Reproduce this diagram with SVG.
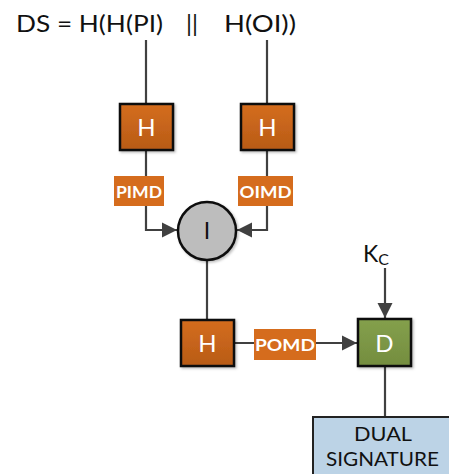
<svg xmlns="http://www.w3.org/2000/svg" width="449" height="474" viewBox="0 0 449 474">
<style>
text{font-family:Lato,"Open Sans","Liberation Sans",sans-serif}
.ln{stroke:#404040;stroke-width:2.2;fill:none}
.hbox{fill:url(#og);stroke:#111;stroke-width:2.5}
.lbl{fill:#d56c1d}
.lt{fill:#fff;font-weight:bold;font-size:17px;text-anchor:middle}
.bt{fill:#fff;font-size:24px;text-anchor:middle}
.tt{font-size:23px;fill:#111}
</style>
<defs>
<linearGradient id="og" x1="0" y1="0" x2="0" y2="1"><stop offset="0" stop-color="#d46d1f"/><stop offset="1" stop-color="#b85b16"/></linearGradient>
<linearGradient id="gg" x1="0" y1="0" x2="0" y2="1"><stop offset="0" stop-color="#84a04c"/><stop offset="1" stop-color="#748d3f"/></linearGradient>
<marker id="ar" viewBox="0 0 10 10" refX="10" refY="5" markerWidth="7" markerHeight="7" orient="auto" markerUnits="strokeWidth"><path d="M0,0L10,5L0,10z" fill="#404040"/></marker>
<filter id="sh" x="-20%" y="-20%" width="150%" height="150%"><feDropShadow dx="1.5" dy="1.5" stdDeviation="1" flood-color="#000" flood-opacity="0.25"/></filter>
</defs>
<g id="title">
<text class="tt" x="16" y="32" textLength="147" lengthAdjust="spacingAndGlyphs">DS = H(H(PI)</text>
<text class="tt" x="186" y="32" textLength="12" lengthAdjust="spacingAndGlyphs">||</text>
<text class="tt" x="224" y="32" textLength="72" lengthAdjust="spacingAndGlyphs">H(OI))</text>
</g>
<g id="connectors">
<path class="ln" d="M146,40V104"/>
<path class="ln" d="M267,40V104"/>
<path class="ln" d="M146,150V230H177" marker-end="url(#ar)"/>
<path class="ln" d="M267,150V230H237" marker-end="url(#ar)"/>
<path class="ln" d="M207,260V320"/>
<path class="ln" d="M234,343H357" marker-end="url(#ar)"/>
<path class="ln" d="M385,268V318" marker-end="url(#ar)"/>
<path class="ln" d="M385,366V417"/>
</g>
<g id="h1"><rect class="hbox" x="120" y="104" width="53" height="46" filter="url(#sh)"/><text class="bt" x="146.5" y="136">H</text></g>
<g id="h2"><rect class="hbox" x="241" y="104" width="53" height="46" filter="url(#sh)"/><text class="bt" x="267.5" y="136">H</text></g>
<g id="pimd"><rect class="lbl" x="114" y="176" width="50" height="30"/><text class="lt" x="139" y="197.5" textLength="46" lengthAdjust="spacingAndGlyphs">PIMD</text></g>
<g id="oimd"><rect class="lbl" x="238" y="176" width="55" height="30"/><text class="lt" x="265.5" y="197.5" textLength="52" lengthAdjust="spacingAndGlyphs">OIMD</text></g>
<g id="concat"><circle cx="207" cy="231" r="29" fill="#bdbdbd" stroke="#111" stroke-width="2.5" filter="url(#sh)"/><text x="207" y="239" font-size="23" text-anchor="middle" fill="#111">I</text></g>
<g id="h3"><rect class="hbox" x="181" y="320" width="53" height="46" filter="url(#sh)"/><text class="bt" x="207.5" y="352">H</text></g>
<g id="pomd"><rect class="lbl" x="254" y="329" width="62" height="31"/><text class="lt" x="285" y="351" textLength="60" lengthAdjust="spacingAndGlyphs">POMD</text></g>
<g id="kc"><text x="363" y="262" font-size="23" fill="#111">K<tspan font-size="16" dy="3">C</tspan></text></g>
<g id="d"><rect x="358" y="319" width="53" height="47" fill="url(#gg)" stroke="#111" stroke-width="2.5" filter="url(#sh)"/><text class="bt" x="384.5" y="352">D</text></g>
<g id="ds"><rect x="313" y="417" width="145" height="70" fill="#bcd3e6" stroke="#222" stroke-width="2"/><text x="383" y="441" font-size="19" text-anchor="middle" fill="#111" textLength="58" lengthAdjust="spacingAndGlyphs">DUAL</text><text x="382.5" y="466" font-size="19" text-anchor="middle" fill="#111" textLength="113" lengthAdjust="spacingAndGlyphs">SIGNATURE</text></g>
</svg>
